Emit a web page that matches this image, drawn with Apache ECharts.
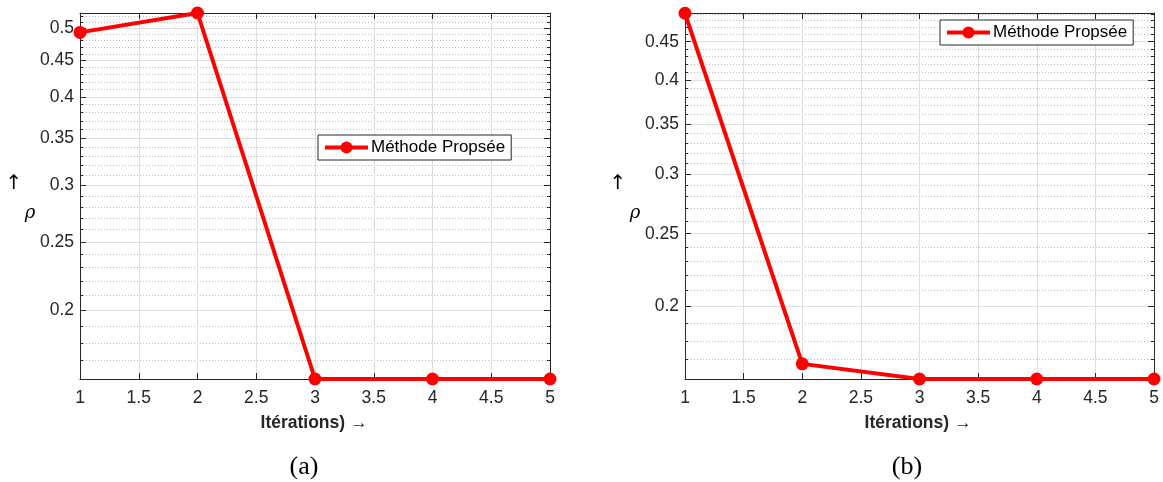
<!DOCTYPE html>
<html>
<head>
<meta charset="utf-8">
<script src="https://cdn.jsdelivr.net/npm/echarts@6/dist/echarts.min.js"></script>
<style>
html,body{margin:0;padding:0;background:#fff;}
#chart{width:1163px;height:482px;}
</style>
</head>
<body>
<div id="chart"></div>
<script>
// ---- data ----
const iterations = [1, 2, 3, 4, 5];
const rhoA = [0.493, 0.525, 0.1602, 0.1602, 0.1602];
const rhoB = [0.491, 0.1678, 0.1602, 0.1602, 0.1602];
const yRangeA = [0.1602, 0.525];
const yRangeB = [0.1602, 0.4914];
const majorTicksA = [0.2, 0.25, 0.3, 0.35, 0.4, 0.45, 0.5];
const majorTicksB = [0.2, 0.25, 0.3, 0.35, 0.4, 0.45];
const minorTicksA = [0.17,0.18,0.19,0.21,0.22,0.23,0.24,0.26,0.27,0.28,0.29,0.31,0.32,0.33,0.34,0.36,0.37,0.38,0.39,0.41,0.42,0.43,0.44,0.46,0.47,0.48,0.49,0.51,0.52];
const minorTicksB = [0.17,0.18,0.19,0.21,0.22,0.23,0.24,0.26,0.27,0.28,0.29,0.31,0.32,0.33,0.34,0.36,0.37,0.38,0.39,0.41,0.42,0.43,0.44,0.46,0.47,0.48,0.49];
const seriesName = 'Méthode Propsée';
const xTitle = 'Itérations) →';
const captions = ['(a)', '(b)'];

// ---- build ----
const L = Math.log10;
const FONT = 'Liberation Sans';
const AX = '#262626';
const chart = echarts.init(document.getElementById('chart'), null, {renderer: 'canvas'});

const grids = [
  {left: 80, right: 613, top: 13, bottom: 103},
  {left: 685, right: 9, top: 13, bottom: 103}
];
const panels = [
  {rho: rhoA, range: yRangeA, major: majorTicksA, minor: minorTicksA},
  {rho: rhoB, range: yRangeB, major: majorTicksB, minor: minorTicksB}
];

const xAxes = [], yAxes = [], series = [];
panels.forEach((p, g) => {
  xAxes.push({
    gridIndex: g, type: 'value', position: 'bottom', min: 1, max: 5, interval: 0.5,
    axisLine: {show: true, onZero: false, lineStyle: {color: AX, width: 1}},
    axisTick: {show: true, inside: true, length: 6, lineStyle: {color: AX}},
    axisLabel: {color: AX, fontFamily: FONT, fontSize: 17.5, margin: 10},
    splitLine: {show: true, lineStyle: {color: '#dedede', width: 1}}
  });
  xAxes.push({
    gridIndex: g, type: 'value', position: 'top', min: 1, max: 5, interval: 0.5,
    axisLine: {show: true, onZero: false, lineStyle: {color: AX, width: 1}},
    axisTick: {show: true, inside: true, length: 6, lineStyle: {color: AX}},
    axisLabel: {show: false}, splitLine: {show: false}
  });
  const mn = L(p.range[0]), mx = L(p.range[1]);
  const majL = p.major.map(L), minL = p.minor.map(L);
  const fmt = v => String(Math.round(Math.pow(10, v) * 100) / 100);
  yAxes.push({
    gridIndex: g, type: 'value', position: 'left', min: mn, max: mx,
    axisLine: {show: true, onZero: false, lineStyle: {color: AX, width: 1}},
    axisTick: {show: true, inside: true, length: 6, customValues: majL, lineStyle: {color: AX}},
    axisLabel: {show: true, customValues: majL, formatter: fmt, color: AX, fontFamily: FONT, fontSize: 17.5, margin: 6},
    splitLine: {show: true, lineStyle: {color: '#dedede', width: 1}}
  });
  yAxes.push({
    gridIndex: g, type: 'value', position: 'left', min: mn, max: mx,
    axisLine: {show: false, onZero: false},
    axisTick: {show: true, inside: true, length: 3, customValues: minL, lineStyle: {color: AX}},
    axisLabel: {show: false, customValues: minL},
    splitLine: {show: true, lineStyle: {color: '#bdbdbd', width: 1, type: [1, 2]}}
  });
  yAxes.push({
    gridIndex: g, type: 'value', position: 'right', min: mn, max: mx,
    axisLine: {show: true, onZero: false, lineStyle: {color: AX, width: 1}},
    axisTick: {show: true, inside: true, length: 6, customValues: majL, lineStyle: {color: AX}},
    axisLabel: {show: false, customValues: majL},
    splitLine: {show: false}
  });
  yAxes.push({
    gridIndex: g, type: 'value', position: 'right', min: mn, max: mx,
    axisLine: {show: false, onZero: false},
    axisTick: {show: true, inside: true, length: 3, customValues: minL, lineStyle: {color: AX}},
    axisLabel: {show: false, customValues: minL},
    splitLine: {show: false}
  });
  series.push({
    name: seriesName, type: 'line', xAxisIndex: 2 * g, yAxisIndex: 4 * g,
    data: iterations.map((x, i) => [x, L(p.rho[i])]),
    symbol: 'circle', symbolSize: 13, showSymbol: true, clip: false,
    lineStyle: {color: '#ff0000', width: 4},
    itemStyle: {color: '#ff0000'},
    z: 10, animation: false
  });
});

const legendCommon = {
  data: [seriesName], orient: 'horizontal',
  itemWidth: 43, itemHeight: 15, itemGap: 5,
  backgroundColor: '#ffffff', borderColor: AX, borderWidth: 1, borderRadius: 0,
  padding: [4, 6, 4, 5],
  lineStyle: {width: 4, color: '#ff0000'},
  itemStyle: {color: '#ff0000'},
  textStyle: {color: '#000', fontFamily: FONT, fontSize: 17, padding: [0, 0, 0, -2]},
  selectedMode: false
};

const texts = [];
[[14, 30, 314], [618, 635, 918]].forEach(([ax, rx, tx]) => {
  texts.push({type: 'text', x: ax, y: 184, style: {text: '↑', fontSize: 20, fontFamily: 'DejaVu Sans', fill: '#000', align: 'center', verticalAlign: 'middle'}});
  texts.push({type: 'text', x: rx, y: 213, style: {text: 'ρ', fontSize: 18, fontStyle: 'italic', fontFamily: 'DejaVu Serif', fill: '#000', align: 'center', verticalAlign: 'middle'}});
  texts.push({type: 'text', x: tx, y: 423, style: {text: xTitle, fontSize: 17.5, fontWeight: 'bold', fontFamily: FONT, fill: AX, align: 'center', verticalAlign: 'middle'}});
});
texts.push({type: 'text', x: 304, y: 467, style: {text: captions[0], fontSize: 26, fontFamily: 'Liberation Serif', fill: '#000', align: 'center', verticalAlign: 'middle'}});
texts.push({type: 'text', x: 907, y: 467, style: {text: captions[1], fontSize: 26, fontFamily: 'Liberation Serif', fill: '#000', align: 'center', verticalAlign: 'middle'}});

chart.setOption({
  animation: false,
  backgroundColor: '#ffffff',
  grid: grids,
  xAxis: xAxes,
  yAxis: yAxes,
  series: series,
  legend: [
    Object.assign({left: 318, top: 135}, legendCommon),
    Object.assign({left: 940, top: 20}, legendCommon)
  ],
  graphic: texts
});
</script>
</body>
</html>
